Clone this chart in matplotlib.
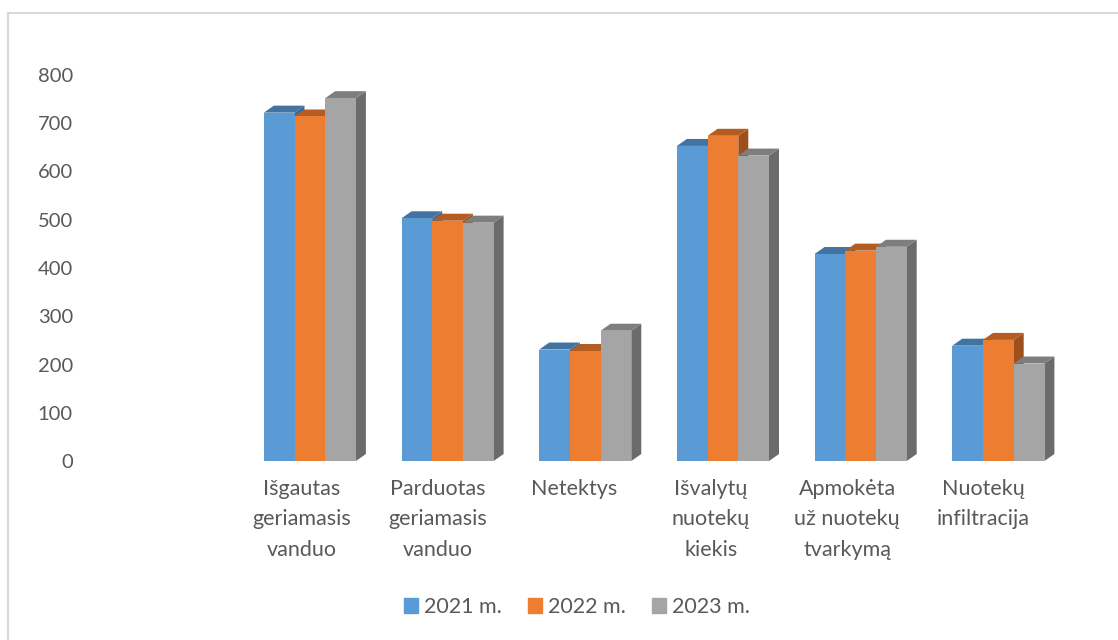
import matplotlib.pyplot as plt
import matplotlib.patches as mpatches
from matplotlib.transforms import ScaledTranslation

plt.rcParams['font.family'] = ['Lato', 'DejaVu Sans']

categories = ['Išgautas\ngeriamasis\nvanduo', 'Parduotas\ngeriamasis\nvanduo', 'Netektys',
              'Išvalytų\nnuotekų\nkiekis', 'Apmokėta\nuž nuotekų\ntvarkymą', 'Nuotekų\ninfiltracija']
series = ['2021 m.', '2022 m.', '2023 m.']
v2021 = [722, 503, 231, 653, 429, 239]
v2022 = [714, 498, 228, 674, 436, 251]
v2023 = [752, 494, 270, 633, 444, 202]

front = ['#5B9BD5', '#ED7D31', '#A5A5A5']
top = ['#4373A0', '#B45C22', '#7E7E7E']
side = ['#3E6A93', '#9E501C', '#6B6B6B']
txt = '#595959'

W, H = 1118, 640
fig = plt.figure(figsize=(W / 100, H / 100), dpi=100)
slot = 137.7
x0 = 241
ax = fig.add_axes([x0 / W, (H - 461) / H, 6 * slot / W, (461 - 75) / H])
ax.set_xlim(-0.5, 5.5)
ax.set_ylim(0, 800)

w = 30.7 / slot
dx = 10 / slot
dy = 7 / (386 / 800)

values = [v2021, v2022, v2023]
z = 2
for i in range(len(categories)):
    for j in range(3):
        v = values[j][i]
        x = i + (j - 1) * w
        l, r = x - w / 2, x + w / 2
        ax.add_patch(mpatches.Polygon([(r, 0), (r + dx, dy), (r + dx, v + dy), (r, v)],
                                      closed=True, facecolor=side[j], edgecolor='none', zorder=z))
        ax.add_patch(mpatches.Polygon([(l, v), (r, v), (r + dx, v + dy), (l + dx, v + dy)],
                                      closed=True, facecolor=top[j], edgecolor='none', zorder=z))
        ax.bar(x, v, width=w, color=front[j], zorder=z + 1, linewidth=0)
        z += 2

for s in ax.spines.values():
    s.set_visible(False)
ax.set_yticks(range(0, 801, 100))
ax.set_xticks(range(len(categories)))
ax.set_xticklabels(categories, linespacing=1.65)
ax.tick_params(axis='y', length=0, pad=121, labelsize=14.5, labelcolor=txt)
ax.tick_params(axis='x', length=0, pad=13, labelsize=15.5, labelcolor=txt)
for k, lab in enumerate(ax.get_xticklabels()):
    lab.set_transform(lab.get_transform() + ScaledTranslation(-(8 + 1.4 * k) / 100, 0, fig.dpi_scale_trans))

handles = [mpatches.Patch(color=c, label=s) for c, s in zip(front, series)]
fig.legend(handles=handles, loc='center', bbox_to_anchor=(577 / W, 1 - 607 / H), ncol=3,
           frameon=False, fontsize=15.5, labelcolor=txt, handlelength=0.65, handleheight=0.65,
           handletextpad=0.3, columnspacing=1.2)

fig.patches.append(mpatches.Rectangle((8 / W, -0.1), 2, 1 - 13 / H + 0.1, transform=fig.transFigure,
                                      fill=False, edgecolor='#D9D9D9', linewidth=1.5))

fig.savefig('out.png', dpi=100)
